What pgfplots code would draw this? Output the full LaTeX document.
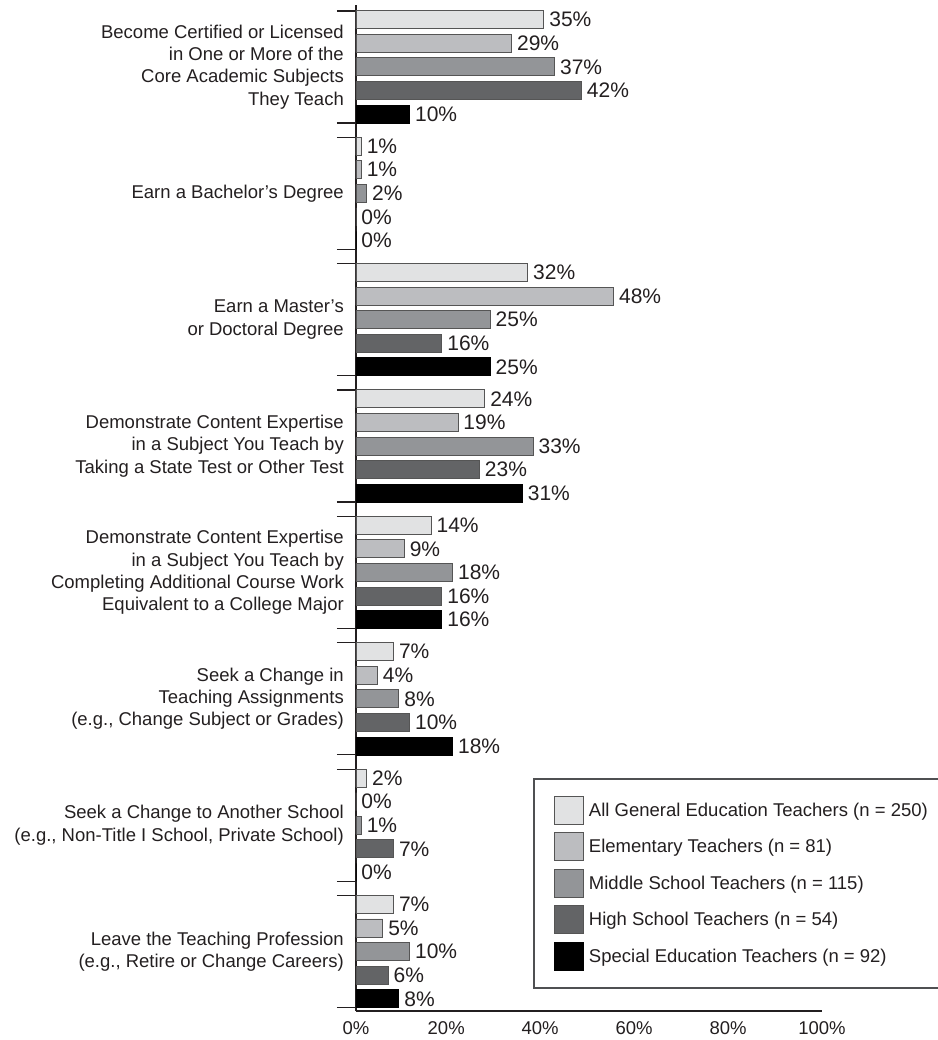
\documentclass[border=0pt]{standalone}
\usepackage{pgfplots}
\pgfplotsset{compat=1.18}
\usepackage{fontspec}
\setmainfont{Liberation Sans}
\definecolor{c1}{HTML}{E1E2E3}
\definecolor{c2}{HTML}{BCBDC0}
\definecolor{c3}{HTML}{939598}
\definecolor{c4}{HTML}{636466}
\definecolor{c5}{HTML}{000000}
\definecolor{edge}{HTML}{555555}
\definecolor{txt}{HTML}{231F20}
\newcommand\fs{\fontsize{18.5pt}{22.3pt}\selectfont}
\newcommand\fn{\fontsize{21pt}{25pt}\selectfont}
\pgfplotsset{sw/.style={/pgfplots/legend image code/.code={\draw[##1] (0pt,-14pt) rectangle (29pt,14pt); \path (32pt,0pt);}}}
\begin{document}
\begin{tikzpicture}
\path[use as bounding box] (-356pt,-29pt) rectangle (581pt,1011pt);
\begin{axis}[
 at={(0pt,0pt)}, anchor=south west, scale only axis,
 width=466pt, height=1006pt,
 xbar, bar width=18pt,
 /pgf/number format/assume math mode=true,
 xmin=0, xmax=86.8, ymin=-0.47, ymax=7.49,
 axis x line*=bottom, axis y line*=left,
 axis line style={line width=1.3pt, draw=txt, -},
 xtick={0,16.8,34.3,51.8,69.3,86.8},
 xticklabels={0\%,20\%,40\%,60\%,80\%,100\%},
 xtick style={draw=none},
 xticklabel style={font=\fs, text=txt, yshift=-7pt},
 ytick={-0.443,0.443,0.557,1.443,1.557,2.443,2.557,3.443,3.557,4.443,4.557,5.443,5.557,6.443,6.557,7.443},
 yticklabels={},
 ytick align=outside,
 major tick length=19pt,
 ytick style={draw=txt, line width=1.3pt},
 extra y ticks={0,1,2,3,4,5,6,7},
 extra y tick labels={
  {Leave the Teaching Profession\\(e.g., Retire or Change Careers)},
  {Seek a Change to Another School\\(e.g., Non-Title I School, Private School)},
  {Seek a Change in\\Teaching Assignments\\(e.g., Change Subject or Grades)},
  {Demonstrate Content Expertise\\in a Subject You Teach by\\Completing Additional Course Work\\Equivalent to a College Major},
  {Demonstrate Content Expertise\\in a Subject You Teach by\\Taking a State Test or Other Test},
  {Earn a Master’s\\or Doctoral Degree},
  {Earn a Bachelor’s Degree},
  {Become Certified or Licensed\\in One or More of the\\Core Academic Subjects\\They Teach}},
 extra y tick style={major tick length=0pt, ytick style={draw=none},
   yticklabel style={font=\fs, align=right, text=txt, inner sep=0pt, xshift=-12pt}},
 nodes near coords={\pgfmathprintnumber{\pgfplotspointmeta}\%},
 every node near coord/.append style={font=\fn, text=txt, inner xsep=5pt},
 legend style={at={(rel axis cs:0.38,0.2316)}, anchor=north west, draw=c4!80!black,
   line width=2pt, inner xsep=20pt, inner ysep=17pt, row sep=7.5pt, font=\fs, text=txt,
   cells={anchor=west}},
 legend cell align=left,
]
\addplot[fill=c1, draw=edge, line width=0.9pt, bar shift=47.2pt, sw] coordinates {(35,7) (1,6) (32,5) (24,4) (14,3) (7,2) (2,1) (7,0)};
\addplot[fill=c2, draw=edge, line width=0.9pt, bar shift=23.6pt, sw] coordinates {(29,7) (1,6) (48,5) (19,4) (9,3) (4,2) (0,1) (5,0)};
\addplot[fill=c3, draw=edge, line width=0.9pt, bar shift=0pt, sw] coordinates {(37,7) (2,6) (25,5) (33,4) (18,3) (8,2) (1,1) (10,0)};
\addplot[fill=c4, draw=edge, line width=0.9pt, bar shift=-23.6pt, sw] coordinates {(42,7) (0,6) (16,5) (23,4) (16,3) (10,2) (7,1) (6,0)};
\addplot[fill=c5, draw=black, line width=0.9pt, bar shift=-47.2pt, sw] coordinates {(10,7) (0,6) (25,5) (31,4) (16,3) (18,2) (0,1) (8,0)};
\legend{All General Education Teachers (n = 250), Elementary Teachers (n = 81), Middle School Teachers (n = 115), High School Teachers (n = 54), Special Education Teachers (n = 92)}
\end{axis}
\end{tikzpicture}
\end{document}
